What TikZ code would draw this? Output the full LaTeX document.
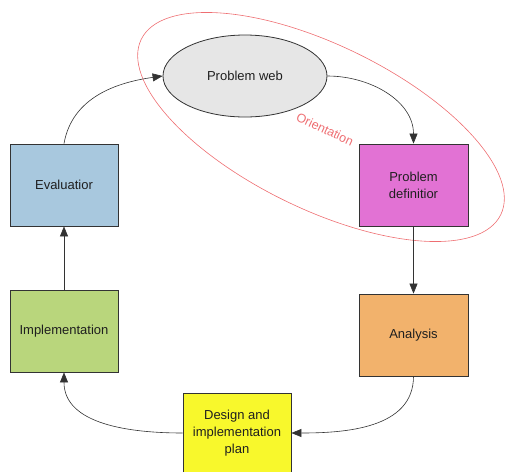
\documentclass[tikz,border=0pt]{standalone}
\usepackage{fontspec}
\setmainfont{Liberation Sans}
\usetikzlibrary{shapes.geometric,arrows.meta}

\definecolor{evalblue}{HTML}{A8C8DE}
\definecolor{implgreen}{HTML}{B9D67C}
\definecolor{designyellow}{HTML}{F8F82C}
\definecolor{anaorange}{HTML}{F2B26C}
\definecolor{defmagenta}{HTML}{E272D4}
\definecolor{webgray}{HTML}{E6E6E6}
\definecolor{orientred}{HTML}{EE6E72}
\definecolor{edgegray}{HTML}{333333}

\tikzset{
  stage/.style={draw=edgegray, line width=0.8pt, minimum width=108pt, minimum height=82pt,
    inner sep=0pt, align=center, font=\fontsize{13}{16.8}\selectfont, text=black!88},
  flow/.style={draw=edgegray, line width=0.6pt, -{Triangle[length=10pt,width=8pt]}},
}

\begin{document}
\begin{tikzpicture}[x=1pt,y=1pt]
  \useasboundingbox (0,0) rectangle (507,-472);

  % orientation phase outline
  \node[draw=orientred, line width=0.6pt, ellipse, minimum width=400pt, minimum height=164pt,
        inner sep=0pt, rotate=-26] (orient) at (321,-127) {};
  \node[text=orientred, rotate=-25, inner sep=0pt, font=\fontsize{12.5}{15}\selectfont] (orientlabel) at (325,-129) {Orientation};

  % stages of the cycle
  \node[stage, ellipse, fill=webgray, minimum width=164pt, minimum height=82pt] (web) at (245,-76) {Problem web};
  \node[stage, fill=defmagenta, minimum width=109pt] (def) at (413.5,-185) {Problem\\definitior};
  \node[stage, fill=anaorange, minimum width=109pt] (ana) at (413.5,-335) {Analysis};
  \node[stage, fill=designyellow, minimum height=80pt] (des) at (237,-433) {Design and\\implementation\\plan};
  \node[stage, fill=implgreen] (impl) at (64,-331) {Implementation};
  \node[stage, fill=evalblue] (eval) at (64,-185) {Evaluatior};

  % cycle connectors
  \draw[flow] (eval.north) to[out=80, in=188] (web.west);
  \draw[flow] (web.east) to[out=0, in=90] (def.north);
  \draw[flow] (def.south) -- (ana.north);
  \draw[flow] (ana.south) to[out=-90, in=0] (des.east);
  \draw[flow] (des.west) to[out=180, in=-90] (impl.south);
  \draw[flow] (impl.north) -- (eval.south);
\end{tikzpicture}
\end{document}
